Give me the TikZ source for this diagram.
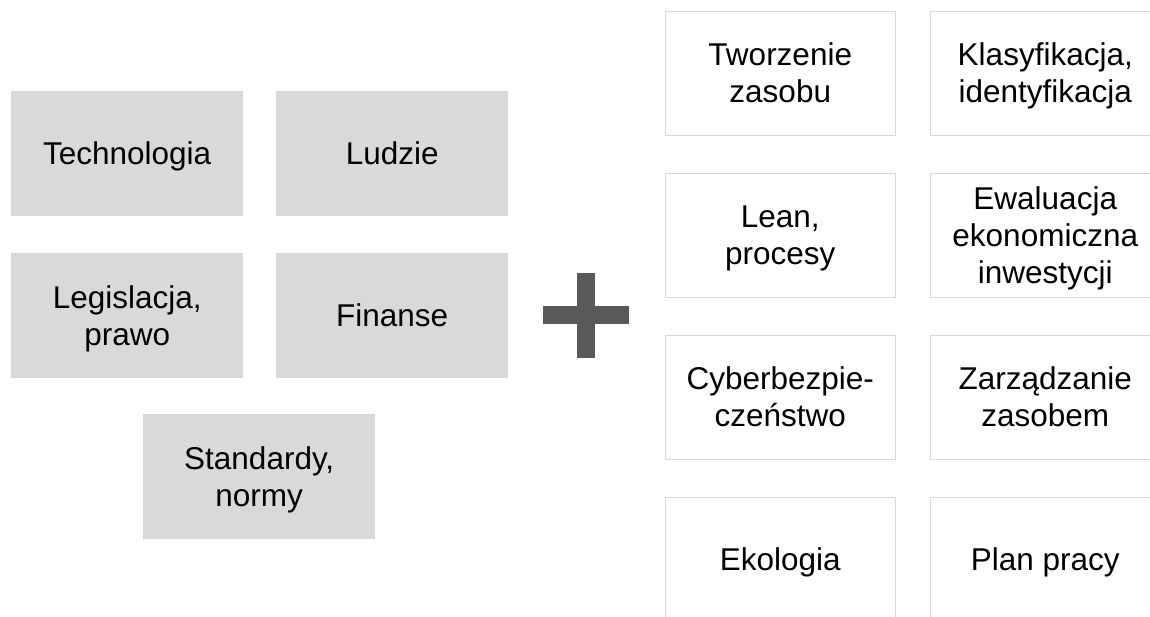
\documentclass[tikz,border=0pt]{standalone}
\usepackage{fontspec}
\setmainfont{Liberation Sans}
\newcommand{\lstrut}{\rule[-0.212em]{0pt}{1.117em}}
\begin{document}
\begin{tikzpicture}[x=1pt,y=-1pt,
  boxtext/.style={inner sep=0pt,align=center,anchor=north west,font=\fontsize{31.5}{37}\selectfont},
  greybox/.style={boxtext,fill=boxgrey,draw=none,minimum width=232pt,minimum height=125pt},
  whitebox/.style={boxtext,fill=white,draw=boxgrey,line width=1.5pt,minimum width=230pt,minimum height=124pt}]
\definecolor{boxgrey}{HTML}{D9D9D9}
\definecolor{plusgrey}{HTML}{595959}
\path[use as bounding box] (0,0) rectangle (1150,616);
\clip (0,0) rectangle (1150,616);
\node[greybox] (tech) at (11,91) {\lstrut Technologia};
\node[greybox] (ludzie) at (276,91) {\lstrut Ludzie};
\node[greybox] (leg) at (11,253) {\lstrut Legislacja,\\\lstrut prawo};
\node[greybox] (fin) at (276,253) {\lstrut Finanse};
\node[greybox] (std) at (143,414) {\lstrut Standardy,\\\lstrut normy};
\fill[plusgrey] (577,273) rectangle (595,358);
\fill[plusgrey] (543,306) rectangle (629,324);
\node[whitebox] (tw) at (664.5,10.5) {\lstrut Tworzenie\\\lstrut zasobu};
\node[whitebox] (kl) at (929.5,10.5) {\lstrut Klasyfikacja,\\\lstrut identyfikacja};
\node[whitebox] (lean) at (664.5,172.5) {\lstrut Lean,\\\lstrut procesy};
\node[whitebox] (ew) at (929.5,172.5) {\lstrut Ewaluacja\\\lstrut ekonomiczna\\\lstrut inwestycji};
\node[whitebox] (cy) at (664.5,334.5) {\lstrut Cyberbezpie-\\\lstrut czeństwo};
\node[whitebox] (za) at (929.5,334.5) {\lstrut Zarządzanie\\\lstrut zasobem};
\node[whitebox] (ek) at (664.5,496.5) {\lstrut Ekologia};
\node[whitebox] (pl) at (929.5,496.5) {\lstrut Plan pracy};
\end{tikzpicture}
\end{document}
